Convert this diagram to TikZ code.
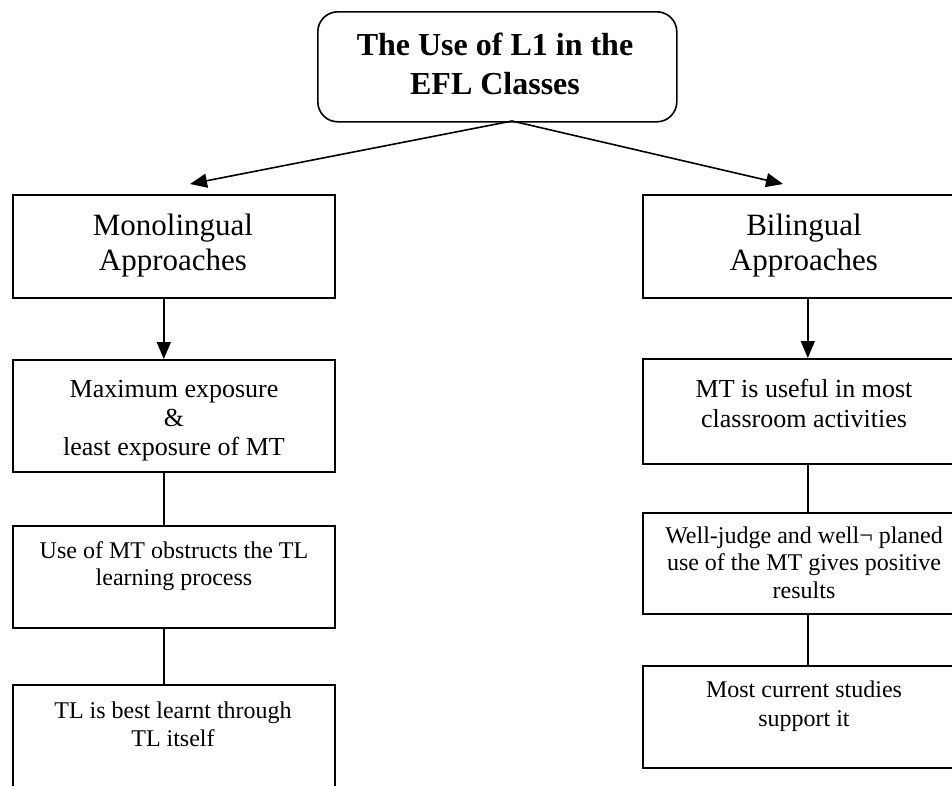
\documentclass[tikz,border=0pt]{standalone}
\usepackage{fontspec}
\setmainfont{Liberation Serif}
\usetikzlibrary{arrows.meta}
\newcommand{\mlines}[3]{{\fontsize{#1}{#2}\selectfont\begin{tabular}[t]{@{}c@{}}#3\end{tabular}}}
\tikzset{
  boxshape/.style={draw, line width=1.6pt, rectangle, inner sep=0pt, anchor=north west},
  txt/.style={inner sep=0pt, anchor=base},
  conn/.style={line width=1.6pt},
  arr/.style={line width=1.6pt, -{Triangle[length=17pt,width=14pt]}}
}
\begin{document}
\begin{tikzpicture}[x=1pt,y=-1pt]
\path[use as bounding box] (0,0) rectangle (952,785);
\clip (0,0) rectangle (952,785);
% boxes
\node[boxshape, rounded corners=20pt, minimum width=359pt, minimum height=110pt] (top) at (317,11) {};
\node[boxshape, minimum width=322pt, minimum height=103pt] (L1) at (12,194) {};
\node[boxshape, minimum width=322pt, minimum height=112pt] (L2) at (12,359) {};
\node[boxshape, minimum width=322pt, minimum height=102pt] (L3) at (12,525) {};
\node[boxshape, minimum width=322pt, minimum height=116pt] (L4) at (12,684) {};
\node[boxshape, minimum width=324pt, minimum height=103pt] (R1) at (642,194) {};
\node[boxshape, minimum width=324pt, minimum height=105pt] (R2) at (642,358) {};
\node[boxshape, minimum width=324pt, minimum height=101pt] (R3) at (642,512) {};
\node[boxshape, minimum width=324pt, minimum height=102pt] (R4) at (642,665) {};
% texts
\node[txt] (ttop) at (495,55) {\mlines{32}{39}{\bfseries The Use of L1 in the\\\bfseries EFL Classes}};
\node[txt] (tL1) at (173,235) {\mlines{31}{35}{Monolingual\\Approaches}};
\node[txt] (tL2) at (174,397) {\mlines{26}{29}{Maximum exposure\\\&\\least exposure of MT}};
\node[txt] (tL3) at (174,558) {\mlines{24}{27.5}{Use of MT obstructs the TL\\learning process}};
\node[txt] (tL4) at (173,718) {\mlines{24}{28}{TL is best learnt through\\TL itself}};
\node[txt] (tR1) at (804,235) {\mlines{31}{35}{Bilingual\\Approaches}};
\node[txt] (tR2) at (804,397) {\mlines{26}{30}{MT is useful in most\\classroom activities}};
\node[txt] (tR3) at (804,543) {\mlines{24}{27.5}{Well-judge and well¬ planed\\use of the MT gives positive\\results}};
\node[txt] (tR4) at (804,697) {\mlines{24}{29}{Most current studies\\support it}};
% connector ends
\coordinate (aL) at (190,184);
\coordinate (aR) at (783,184);
\coordinate (apex) at (512,121);
% connectors
\draw[arr] (apex) -- (aL);
\draw[arr] (apex) -- (aR);
\draw[arr] ([xshift=-10pt]L1.south) -- ([xshift=-10pt]L2.north);
\draw[arr] ([xshift=3pt]R1.south) -- ([xshift=3pt]R2.north);
\draw[conn] ([xshift=-10pt]L2.south) -- ([xshift=-10pt]L3.north);
\draw[conn] ([xshift=-10pt]L3.south) -- ([xshift=-10pt]L4.north);
\draw[conn] ([xshift=3pt]R2.south) -- ([xshift=3pt]R3.north);
\draw[conn] ([xshift=3pt]R3.south) -- ([xshift=3pt]R4.north);
\end{tikzpicture}
\end{document}
